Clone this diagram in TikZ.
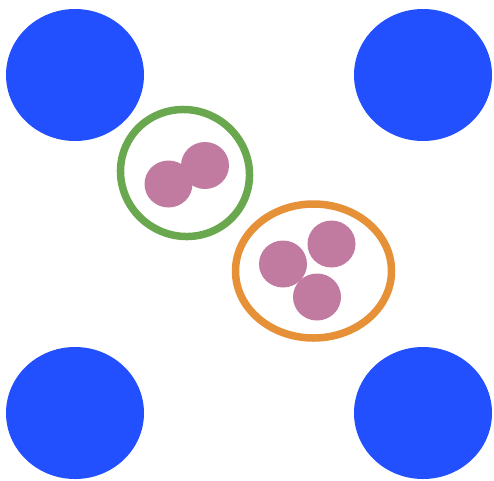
\documentclass[tikz,border=0pt]{standalone}
\definecolor{bl}{RGB}{34,80,255}
\definecolor{gr}{RGB}{106,168,79}
\definecolor{orr}{RGB}{230,145,56}
\definecolor{pk}{RGB}{194,123,160}
\begin{document}
\begin{tikzpicture}[x=1pt,y=-1pt,
  big/.style={fill=bl},
  dot/.style={fill=pk},
  ring/.style={line width=7.5pt}]
\useasboundingbox (0,0) rectangle (494,480);
\fill[big] (75,75) ellipse [x radius=69, y radius=66];
\fill[big] (423,75) ellipse [x radius=69, y radius=66];
\fill[big] (75,413) ellipse [x radius=69, y radius=66];
\fill[big] (423,413) ellipse [x radius=69, y radius=66];
\draw[ring,gr] (185,173) ellipse [x radius=65, y radius=63, rotate=-30];
\fill[dot] (205,165.5) ellipse [x radius=24, y radius=23.5];
\fill[dot] (168.5,184) ellipse [x radius=24, y radius=23.5];
\draw[ring,orr] (313.5,271) ellipse [x radius=78, y radius=67];
\fill[dot] (283,264) ellipse [x radius=24, y radius=23.5];
\fill[dot] (331.5,244) ellipse [x radius=24, y radius=23.5];
\fill[dot] (317,297) ellipse [x radius=24, y radius=23.5];
\end{tikzpicture}
\end{document}
